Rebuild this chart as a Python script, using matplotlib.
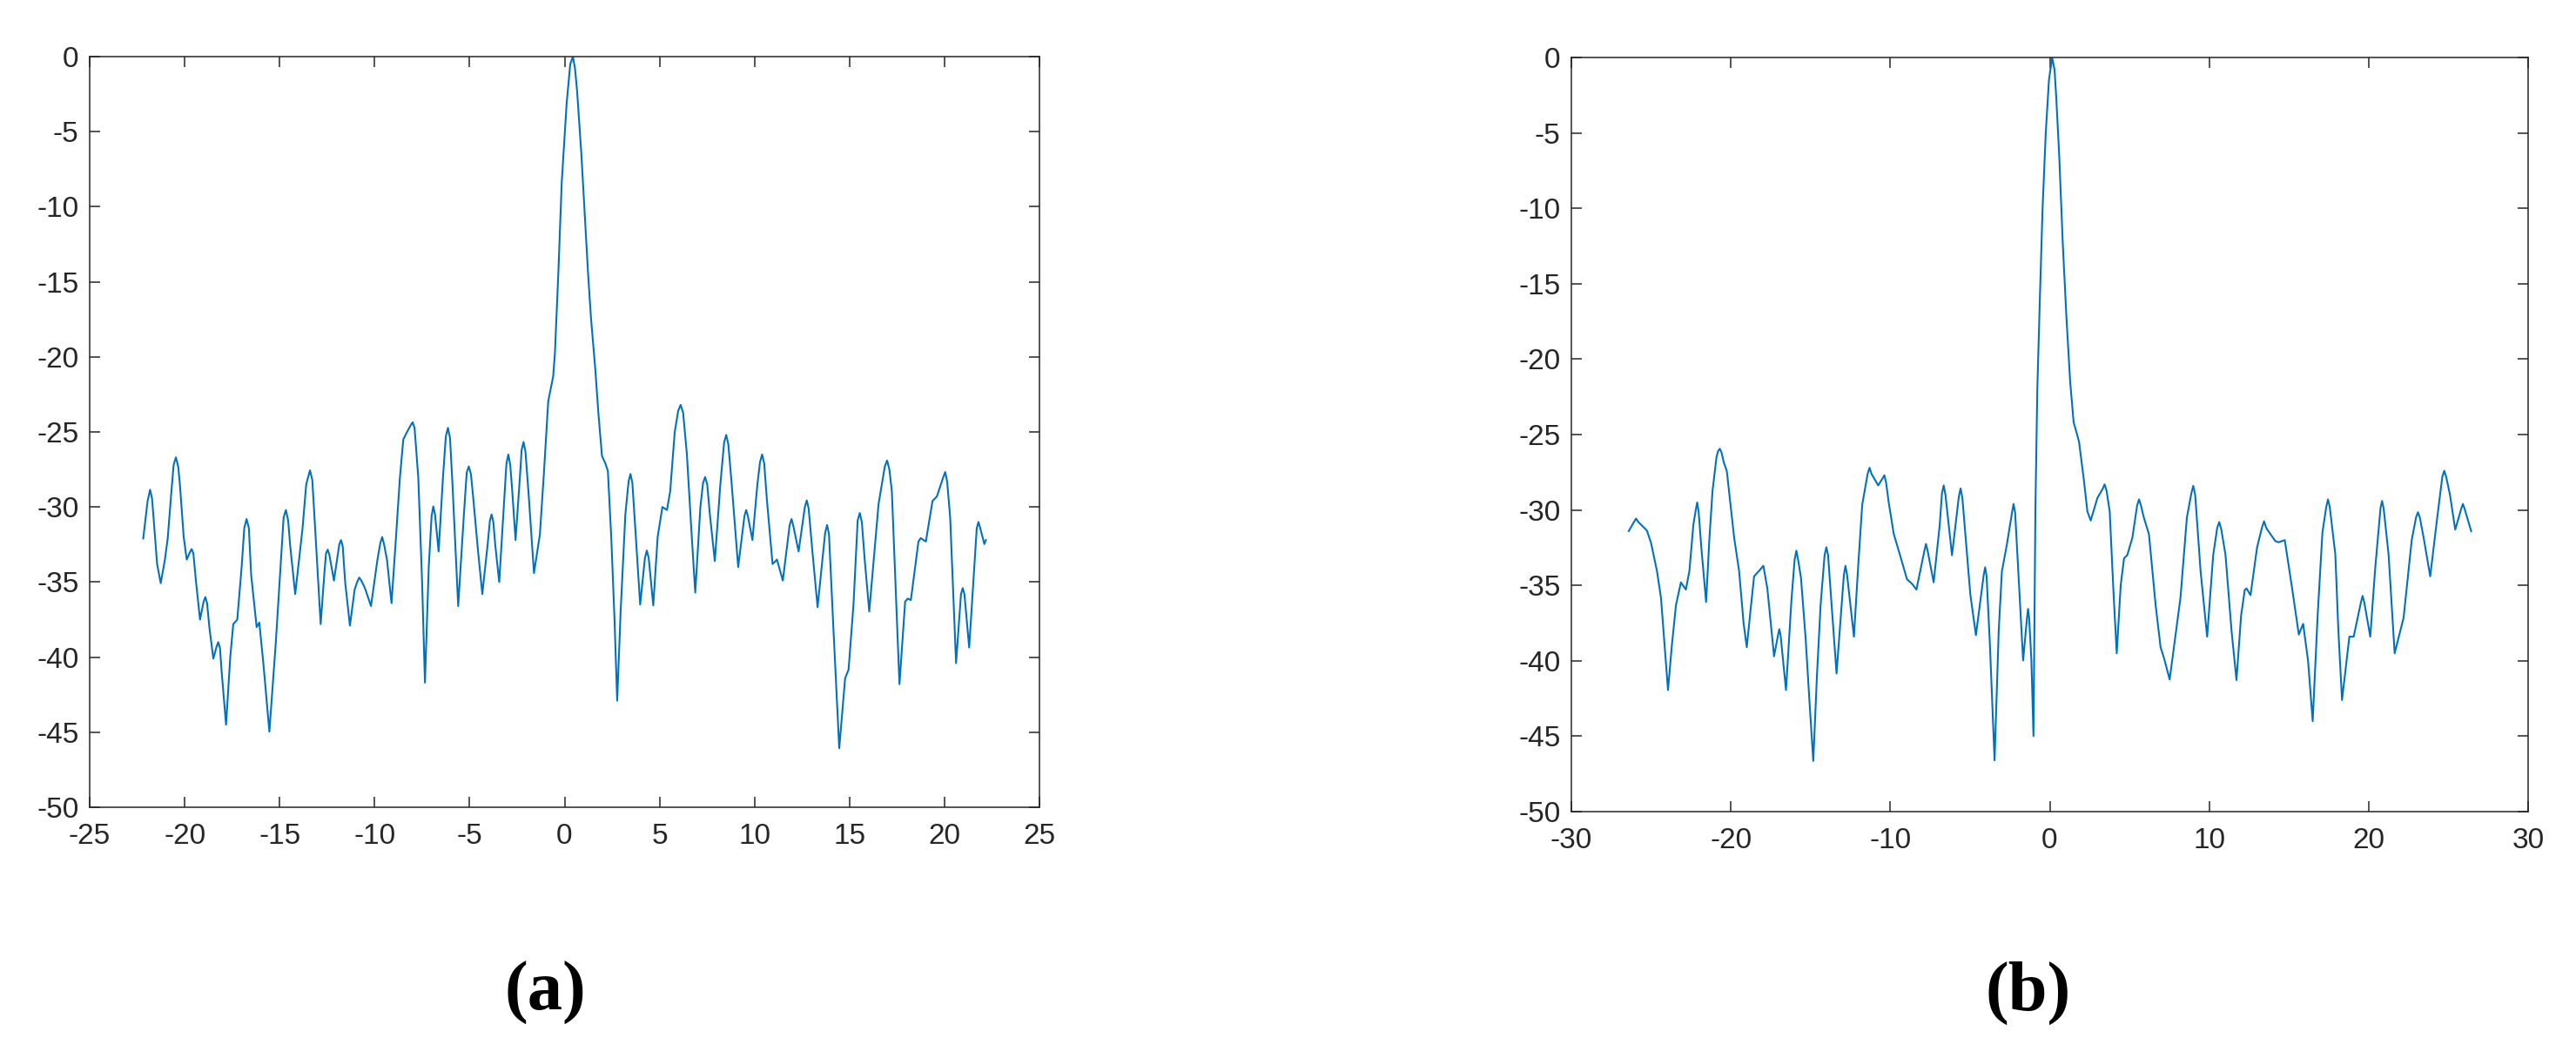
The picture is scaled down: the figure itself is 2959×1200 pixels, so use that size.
import matplotlib
matplotlib.use("Agg")
import matplotlib.pyplot as plt

# ---- data ----
# panel (a): main trace points
xa = [-22.18, -21.95, -21.82, -21.65, -21.45, -21.26, -21.05, -20.89, -20.7, -20.46,
      -20.25, -20.05, -19.89, -19.63, -19.4, -19.19, -18.91, -18.7, -18.49, -18.23,
      -18.05, -17.82, -17.6, -17.44, -17.23, -17.0, -16.74, -16.5, -16.21, -16.07,
      -15.85, -15.54, -15.2, -14.9, -14.67, -14.45, -14.18, -13.8, -13.6, -13.40,
      -13.15, -12.84, -12.65, -12.47, -12.14, -11.77, -11.55, -11.30, -11.05, -10.81,
      -10.51, -10.19, -9.85, -9.60, -9.35, -9.11, -8.9, -8.67, -8.49, -8.32,
      -8.0, -7.85, -7.70, -7.5, -7.35, -7.15, -6.91, -6.63, -6.4, -6.14,
      -5.9, -5.60, -5.3, -5.04, -4.8, -4.55, -4.33, -4.05, -3.84, -3.65,
      -3.44, -3.2, -2.96, -2.75, -2.58, -2.35, -2.16, -1.9, -1.61, -1.30,
      -1.1, -0.86, -0.60, -0.51, -0.33, -0.15, 0.11, 0.30, 0.44, 0.55,
      0.66, 0.88, 1.06, 1.24, 1.39, 1.61, 1.79, 1.97, 2.14, 2.28,
      2.46, 2.63, 2.77, 2.95, 3.2, 3.47, 3.7, 3.98, 4.33, 4.67,
      4.9, 5.15, 5.39, 5.56, 5.8, 6.11, 6.44, 6.65, 6.88, 7.15,
      7.40, 7.65, 7.91, 8.2, 8.51, 8.8, 9.14, 9.56, 9.89, 10.15,
      10.40, 10.65, 10.95, 11.18, 11.49, 11.95, 12.32, 12.75, 13.05, 13.32,
      13.82, 14.15, 14.46, 14.77, 14.95, 15.21, 15.54, 15.8, 16.04, 16.53,
      16.98, 17.23, 17.45, 17.63, 17.93, 18.07, 18.23, 18.63, 18.75, 19.02,
      19.37, 19.6, 20.04, 20.30, 20.61, 20.96, 21.30, 21.79, 22.1, 22.18]
ya = [-32.1, -29.6, -28.85, -30.5, -33.8, -35.07, -33.6, -32.07, -29.0, -26.69,
      -28.5, -32.0, -33.5, -32.8, -35.0, -37.5, -36.0, -38.0, -40.1, -39.0,
      -41.0, -44.5, -40.0, -37.8, -37.5, -34.0, -30.8, -34.5, -38.0, -37.7,
      -40.5, -44.96, -39.0, -33.0, -30.2, -32.5, -35.8, -31.5, -28.5, -27.56,
      -31.0, -37.8, -34.5, -32.84, -34.9, -32.2, -35.0, -37.9, -35.5, -34.7,
      -35.4, -36.6, -33.5, -32.0, -33.5, -36.4, -32.5, -28.07, -25.5, -25.07,
      -24.36, -25.5, -28.07, -35.0, -41.7, -34.0, -29.96, -32.96, -28.0, -24.73,
      -28.5, -36.6, -30.5, -27.3, -29.5, -33.0, -35.8, -32.5, -30.5, -32.5,
      -35.0, -30.0, -26.5, -29.0, -32.2, -28.0, -25.67, -29.0, -34.4, -31.84,
      -28.0, -22.96, -21.3, -19.8, -14.5, -8.4, -3.1, -0.5, 0.0, -0.8,
      -2.3, -6.4, -10.5, -14.5, -17.4, -20.7, -23.9, -26.6, -27.07, -27.6,
      -32.07, -37.5, -42.9, -37.0, -30.5, -27.8, -31.0, -36.5, -32.9, -36.56,
      -32.0, -30.0, -30.2, -28.96, -25.0, -23.2, -26.5, -31.0, -35.7, -30.0,
      -28.0, -30.5, -33.6, -28.5, -25.2, -28.5, -34.0, -30.2, -32.2, -28.5,
      -26.5, -29.5, -33.8, -33.5, -34.9, -30.8, -32.96, -29.56, -33.0, -36.67,
      -31.2, -38.0, -46.07, -41.4, -40.84, -36.5, -30.4, -33.5, -36.96, -29.8,
      -26.9, -28.96, -36.0, -41.8, -36.3, -36.1, -36.2, -32.3, -32.07, -32.3,
      -29.6, -29.3, -27.67, -30.7, -40.4, -35.4, -39.36, -31.0, -32.47, -32.2]
# panel (a): points read on the rounded tops of the lobes
xa_tops = [-21.72, -20.58, -20.34, -19.72, -19.54, -19.0, -18.82, -18.32, -18.14,
           -16.86, -16.62, -14.79, -14.55, -13.52, -13.28, -12.56, -12.38, -11.86,
           -11.68, -10.92, -10.7, -9.7, -9.5, -8.12, -7.9, -7.0, -6.82, -6.25, -6.03,
           -5.15, -4.93, -3.93, -3.75, -3.06, -2.86, -2.26, -2.06, 3.37, 3.57, 4.23,
           4.43, 5.98, 6.24, 7.29, 7.51, 8.4, 8.62, 9.47, 9.65, 10.29, 10.51, 11.85,
           12.05, 12.65, 12.85, 13.72, 13.92, 15.43, 15.65, 16.86, 17.1, 19.94, 20.14,
           20.87, 21.05, 21.7, 21.88]
ya_tops = [-29.4, -27.2, -27.3, -33.0, -33.1, -36.3, -36.4, -39.3, -39.4,
           -31.4, -31.4, -30.7, -30.9, -28.1, -28.2, -33.1, -33.2, -32.5,
           -32.6, -35.0, -34.9, -32.4, -32.5, -24.6, -24.7, -30.6, -30.5, -25.3, -25.4,
           -27.7, -27.8, -30.9, -31.0, -27.1, -27.2, -26.2, -26.3, -28.3, -28.4, -33.4,
           -33.4, -23.6, -23.7, -28.4, -28.5, -25.7, -25.8, -30.6, -30.6, -27.0, -27.1, -31.2,
           -31.3, -30.0, -30.1, -31.7, -31.8, -30.9, -31.0, -27.3, -27.5, -28.0, -28.3,
           -35.8, -35.8, -31.4, -31.4]

# panel (b): main trace points
xb = [-26.4, -25.94, -25.53, -25.26, -25.0, -24.63, -24.38, -24.15, -23.94, -23.7,
      -23.44, -23.13, -22.82, -22.6, -22.35, -22.11, -21.85, -21.55, -21.35, -21.15,
      -20.9, -20.69, -20.45, -20.25, -19.79, -19.48, -19.2, -19.0, -18.75, -18.54,
      -18.2, -17.96, -17.71, -17.29, -16.96, -16.54, -16.2, -15.89, -15.6, -15.31,
      -15.05, -14.83, -14.6, -14.37, -14.01, -13.7, -13.37, -12.81, -12.28, -12.0,
      -11.76, -11.30, -10.76, -10.37, -10.1, -9.78, -9.47, -8.95, -8.63, -8.36,
      -7.76, -7.28, -6.9, -6.65, -6.13, -5.59, -4.98, -4.63, -4.05, -3.75,
      -3.46, -3.2, -3.0, -2.69, -2.27, -1.95, -1.67, -1.36, -1.15, -1.02,
      -0.90, -0.78, -0.62, -0.45, -0.25, -0.05, 0.15, 0.30, 0.40, 0.59,
      0.82, 1.05, 1.28, 1.5, 1.69, 1.84, 2.15, 2.36, 2.57, 2.99,
      3.44, 3.76, 4.0, 4.20, 4.45, 4.66, 4.86, 5.18, 5.6, 5.9,
      6.22, 6.64, 6.95, 7.16, 7.52, 8.0, 8.2, 8.6, 9.0, 9.46,
      9.87, 10.25, 10.63, 11.02, 11.4, 11.71, 12.0, 12.23, 12.34, 12.59,
      13.0, 13.44, 14.15, 14.36, 14.74, 15.2, 15.62, 15.89, 16.2, 16.49,
      16.8, 17.1, 17.45, 17.91, 18.1, 18.33, 18.79, 19.06, 19.62, 20.1,
      20.4, 20.84, 21.25, 21.63, 22.19, 22.7, 23.09, 23.45, 23.86, 24.3,
      24.74, 25.1, 25.43, 25.91, 26.43]
yb = [-31.4, -30.57, -31.08, -31.37, -32.2, -34.06, -35.83, -39.0, -41.94, -39.0,
      -36.3, -34.8, -35.28, -34.06, -31.0, -29.5, -32.5, -36.1, -32.0, -28.76,
      -26.5, -25.94, -26.8, -27.44, -31.85, -34.06, -37.5, -39.1, -36.5, -34.4,
      -34.0, -33.7, -35.2, -39.7, -37.9, -41.94, -36.0, -32.7, -34.5, -38.5,
      -43.0, -46.64, -41.0, -36.3, -32.47, -36.0, -40.84, -33.7, -38.4, -33.5,
      -29.65, -27.2, -28.37, -27.7, -29.5, -31.6, -32.7, -34.6, -34.9, -35.28,
      -32.25, -34.8, -31.0, -28.37, -33.0, -28.57, -35.6, -38.3, -33.8, -39.0,
      -46.6, -38.0, -34.06, -32.3, -29.6, -34.5, -39.98, -36.56, -40.0, -44.99,
      -30.0, -22.0, -16.0, -10.0, -5.0, -1.5, 0.0, -0.8, -2.5, -6.4,
      -12.4, -17.3, -21.5, -24.2, -24.9, -25.5, -28.1, -30.1, -30.7, -29.2,
      -28.3, -30.1, -35.5, -39.5, -35.0, -33.2, -33.0, -31.85, -29.3, -30.5,
      -31.6, -36.3, -39.1, -39.8, -41.24, -37.4, -35.8, -30.5, -28.4, -34.06,
      -38.4, -33.0, -30.8, -32.96, -38.0, -41.28, -37.0, -35.3, -35.2, -35.65,
      -32.5, -30.75, -32.07, -32.14, -32.0, -35.2, -38.26, -37.55, -40.0, -44.0,
      -37.0, -31.5, -29.3, -32.96, -38.0, -42.6, -38.4, -38.4, -35.7, -38.4,
      -34.0, -29.4, -32.96, -39.5, -37.15, -32.0, -30.15, -31.85, -34.4, -30.5,
      -27.4, -29.0, -31.3, -29.6, -31.4]
# panel (b): points read on the rounded tops of the lobes
xb_tops = [-26.08, -25.8, -22.2, -22.02, -20.8, -20.58, -17.04, -16.88, -16.0, -15.78,
           -14.12, -13.9, -12.91, -12.71, -11.42, -11.18, -10.48, -10.26, -7.86, -7.66,
           -6.76, -6.54, -5.7, -5.48, -4.14, -3.96, -2.37, -2.17, -1.43, -1.29,
           3.32, 3.56, 5.48, 5.72, 8.88, 9.12, 10.5, 10.76, 13.3, 13.58, 17.34, 17.56,
           19.52, 19.72, 20.74, 20.94, 22.97, 23.21, 24.62, 24.86, 25.81, 26.01]
yb_tops = [-30.8, -30.8, -30.0, -30.1, -26.1, -26.2, -38.3, -38.3, -33.3, -33.3,
           -33.0, -33.0, -34.3, -34.3, -27.6, -27.6, -27.9, -28.2, -32.7, -32.7,
           -28.9, -29.0, -29.1, -29.2, -34.3, -34.4, -30.2, -30.2, -37.2, -37.2,
           -28.6, -28.7, -29.7, -29.7, -28.9, -29.0, -31.2, -31.3, -31.2, -31.2, -29.8, -29.8,
           -36.1, -36.1, -29.9, -29.9, -30.5, -30.5, -27.8, -27.8, -29.9, -29.9]

xticks_a = [-25, -20, -15, -10, -5, 0, 5, 10, 15, 20, 25]
xticks_b = [-30, -20, -10, 0, 10, 20, 30]
yticks = [-50, -45, -40, -35, -30, -25, -20, -15, -10, -5, 0]
panel_labels = ["(a)", "(b)"]

LINE = "#0072BD"
AX = "#262626"

plt.rcParams['font.family'] = ['Liberation Sans', 'DejaVu Sans']

W, H = 2959, 1200
fig = plt.figure(figsize=(W / 100, H / 100), dpi=100)

def px_axes(x0, x1, y0, y1):
    return fig.add_axes([x0 / W, 1 - y1 / H, (x1 - x0) / W, (y1 - y0) / H])

def merged(x, y, xt, yt):
    pts = sorted(zip(list(x) + list(xt), list(y) + list(yt)))
    return [p[0] for p in pts], [p[1] for p in pts]

ax1 = px_axes(103, 1194, 65, 927)
ax2 = px_axes(1805, 2904, 66, 932)

series = [(ax1, merged(xa, ya, xa_tops, ya_tops), xticks_a),
          (ax2, merged(xb, yb, xb_tops, yb_tops), xticks_b)]

for ax, (x, y), xt in series:
    ax.plot(x, y, color=LINE, lw=1.5, solid_joinstyle='round')
    ax.set_xlim(xt[0], xt[-1])
    ax.set_ylim(-50, 0)
    ax.set_xticks(xt)
    ax.set_yticks(yticks)
    ax.set_xticklabels([str(v) for v in xt])
    ax.set_yticklabels([str(v) for v in yticks])
    ax.tick_params(direction='in', length=8.5, width=1.1, color=AX,
                   labelcolor=AX, labelsize=24, top=True, right=True)
    ax.tick_params(axis='x', pad=13)
    ax.tick_params(axis='y', pad=9)
    for s in ax.spines.values():
        s.set_color(AX)
        s.set_linewidth(1.1)

fig.text(626 / W, 1 - 1140 / H, panel_labels[0], ha='center', va='center',
         fontsize=58, fontweight='bold', family=['Liberation Serif', 'DejaVu Serif'])
fig.text(2330 / W, 1 - 1140 / H, panel_labels[1], ha='center', va='center',
         fontsize=58, fontweight='bold', family=['Liberation Serif', 'DejaVu Serif'])

fig.savefig("out.png", dpi=100, facecolor='white')
